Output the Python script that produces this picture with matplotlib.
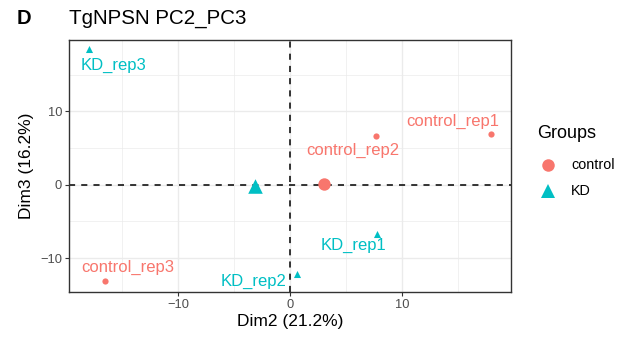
import numpy as np
import matplotlib.pyplot as plt
from matplotlib.lines import Line2D

plt.rcParams['font.family'] = ['Liberation Sans', 'DejaVu Sans']

# PCA scores (Dim2, Dim3)
samples = ['control_rep1', 'control_rep2', 'control_rep3', 'KD_rep1', 'KD_rep2', 'KD_rep3']
groups  = ['control', 'control', 'control', 'KD', 'KD', 'KD']
dim2    = [17.9, 7.7, -16.5, 7.8, 0.6, -17.9]
dim3    = [6.9, 6.7, -13.1, -6.7, -12.2, 18.5]
# label positions (repelled)
lab_x   = [14.55, 5.63, -14.46, 5.71, -3.21, -15.8]
lab_y   = [8.57, 4.63, -11.29, -8.30, -13.2, 16.3]

colors = {'control': '#F8766D', 'KD': '#00BFC4'}
markers = {'control': 'o', 'KD': '^'}

fig = plt.figure(figsize=(6.24, 3.37), dpi=100)
ax = fig.add_axes([69/624, 1-292/337, (511-69)/624, (292-40)/337])

ax.set_xlim(-19.73, 19.73)
ax.set_ylim(-14.6, 19.7)
ax.set_xticks([-10, 0, 10])
ax.set_yticks([-10, 0, 10])
ax.set_xticks([-15, -5, 5, 15], minor=True)
ax.set_yticks([-5, 5, 15], minor=True)
ax.grid(True, which='major', color='#EBEBEB', lw=1.0, zorder=0)
ax.grid(True, which='minor', color='#EBEBEB', lw=0.5, zorder=0)
ax.set_axisbelow(True)
for s in ax.spines.values():
    s.set_color('#333333')
    s.set_linewidth(1.0)
ax.tick_params(which='major', length=3, color='#333333', labelsize=9.3,
               labelcolor='#4D4D4D', pad=2)
ax.tick_params(which='minor', length=0)
ax.set_xticklabels(['\u221210', '0', '10'])
ax.set_yticklabels(['\u221210', '0', '10'])

ax.axhline(0, color='black', ls=(0, (4, 4)), lw=1.1, zorder=1)
ax.axvline(0, color='black', ls=(0, (4, 4)), lw=1.1, zorder=1)

for i, s in enumerate(samples):
    g = groups[i]
    ax.scatter(dim2[i], dim3[i], s=20 if g == 'control' else 26,
               marker=markers[g], color=colors[g], lw=0, zorder=3)
    ax.text(lab_x[i], lab_y[i], s, color=colors[g], fontsize=12,
            ha='center', va='center', zorder=4)

# group centroids
for g in ['control', 'KD']:
    xs = [dim2[i] for i in range(len(samples)) if groups[i] == g]
    ys = [dim3[i] for i in range(len(samples)) if groups[i] == g]
    ax.scatter(np.mean(xs), np.mean(ys), s=80 if g == 'control' else 110,
               marker=markers[g], color=colors[g], lw=0, zorder=3)

ax.set_xlabel('Dim2 (21.2%)', fontsize=12.5, labelpad=2)
ax.set_ylabel('Dim3 (16.2%)', fontsize=12.5, labelpad=4)

fig.text(17/624, 1-18/337, 'D', fontsize=14.5, fontweight='bold', va='center', ha='left')
fig.text(69/624, 1-18/337, 'TgNPSN PC2_PC3', fontsize=14.8, va='center', ha='left')

# legend drawn by hand in figure coordinates
fig.text(537/624, 1-133/337, 'Groups', fontsize=13, va='center', ha='left')
for j, g in enumerate(['control', 'KD']):
    yy = 1 - (165 + 26*j)/337
    fig.add_artist(Line2D([548/624], [yy], marker=markers[g], color=colors[g],
                          ls='', ms=9 if g == 'control' else 10, mew=0))
    fig.text(571/624, yy, g, fontsize=10.4, va='center', ha='left')

fig.savefig('out.png', dpi=100)
